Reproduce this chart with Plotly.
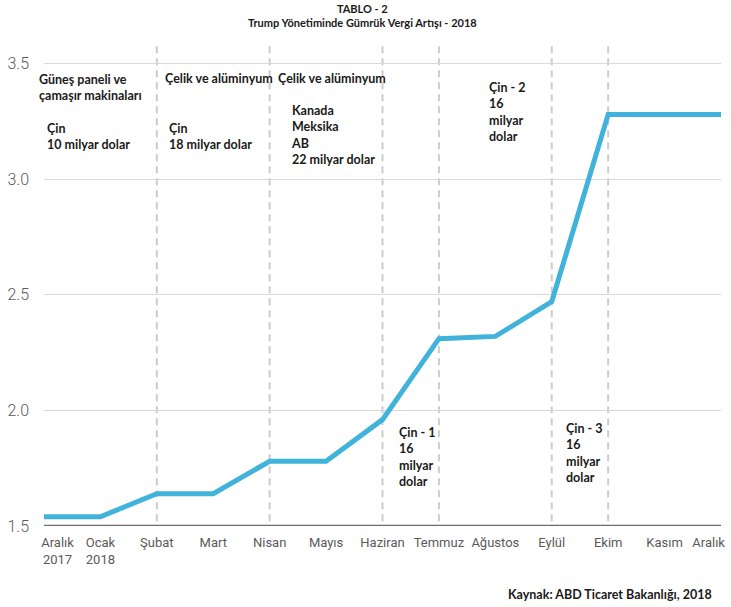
import plotly.graph_objects as go

# Monthly labels (Dec 2017 .. Dec 2018)
months = ["Aralık<br>2017", "Ocak<br>2018", "Şubat", "Mart", "Nisan", "Mayıs",
          "Haziran", "Temmuz", "Ağustos", "Eylül", "Ekim", "Kasım", "Aralık"]
# Average tariff level per month
tariff = [1.54, 1.54, 1.64, 1.64, 1.78, 1.78, 1.96, 2.31, 2.32, 2.47, 3.28, 3.28, 3.28]
# Months in which new tariffs were introduced
event_months = ["Şubat", "Nisan", "Haziran", "Temmuz", "Eylül", "Ekim"]

y_ticks = [1.5, 2.0, 2.5, 3.0, 3.5]

LINE_BLUE = "#41b2da"
TEXT_DARK = "#1a1a1a"
AXIS_GRAY = "#5a5a5a"
NOTE_FAMILY = "Lato, Open Sans, sans-serif"

xpos = list(range(len(months)))
# keep the first and last month labels inside the plot edges
label_pos = [p for p in xpos]
label_pos[0] += 0.24
label_pos[-1] -= 0.22

fig = go.Figure()
fig.add_trace(go.Scatter(
    x=xpos, y=tariff, mode="lines",
    line=dict(color=LINE_BLUE, width=5),
    hoverinfo="skip", showlegend=False,
))

shapes = []
for m in event_months:
    i = months.index(m)
    shapes.append(dict(
        type="line", xref="x", yref="paper", x0=i, x1=i, y0=0.01, y1=1,
        line=dict(color="#cccccc", width=2, dash="7px,5px"), layer="between",
    ))
# dark baseline
shapes.append(dict(
    type="line", xref="paper", yref="y", x0=0, x1=1, y0=1.5, y1=1.5,
    line=dict(color="#6b6b6b", width=2.5), layer="between",
))

note_font = dict(family=NOTE_FAMILY, size=12.5, color=TEXT_DARK, weight=700)
# (text, x, y, horizontal pixel shift)
notes = [
    ("Güneş paneli ve<br>çamaşır makinaları", 0, 3.395, -7),
    ("Çin<br>10 milyar dolar", 0.026, 3.185, 0),
    ("Çelik ve alüminyum", 2.11, 3.435, 0),
    ("Çin<br>18 milyar dolar", 2.176, 3.185, 0),
    ("Çelik ve alüminyum", 4.115, 3.435, 0),
    ("Kanada<br>Meksika<br>AB<br>22 milyar dolar", 4.344, 3.19, 0),
    ("Çin - 2<br>16<br>milyar<br>dolar", 7.85, 3.29, 0),
    ("Çin - 1<br>16<br>milyar<br>dolar", 6.264, 1.797, 0),
    ("Çin - 3<br>16<br>milyar<br>dolar", 9.225, 1.814, 0),
]
annotations = [
    dict(text=t, x=x, y=y, xref="x", yref="y", xanchor="left", yanchor="middle",
         xshift=dx, align="left", showarrow=False, font=note_font)
    for t, x, y, dx in notes
]
# chart heading
annotations.append(dict(
    text="TABLO - 2<br>Trump Yönetiminde Gümrük Vergi Artışı - 2018",
    xref="paper", yref="paper", x=0.471, y=1.061, xanchor="center", yanchor="middle",
    align="center", showarrow=False,
    font=dict(family=NOTE_FAMILY, size=11, color=TEXT_DARK, weight=700),
))
# source line
annotations.append(dict(
    text="Kaynak: ABD Ticaret Bakanlığı, 2018", xref="paper", yref="paper",
    x=0.99, y=-0.142, xanchor="right", yanchor="middle", showarrow=False,
    font=dict(family=NOTE_FAMILY, size=12.5, color=TEXT_DARK, weight=700),
))

fig.update_layout(
    width=731, height=607,
    margin=dict(l=44, r=6, t=45, b=81),
    paper_bgcolor="white", plot_bgcolor="white",
    xaxis=dict(
        range=[0, len(months) - 1], tickvals=label_pos, ticktext=months,
        showgrid=False, zeroline=False, showline=False, ticks="",
        tickfont=dict(family="Liberation Sans Narrow, Roboto, sans-serif", size=13, color=AXIS_GRAY),
        ticklabelstandoff=7, ticklabeloverflow="allow",
    ),
    yaxis=dict(
        range=[1.5, 3.58], tickvals=y_ticks, tickformat=".1f",
        showgrid=True, gridcolor="#d9d9d9", gridwidth=1,
        zeroline=False, showline=False, ticks="",
        tickfont=dict(family="Roboto, sans-serif", size=16, color=AXIS_GRAY, weight=300),
        ticklabelstandoff=14,
    ),
    shapes=shapes,
    annotations=annotations,
)

fig.write_html("out.html")
